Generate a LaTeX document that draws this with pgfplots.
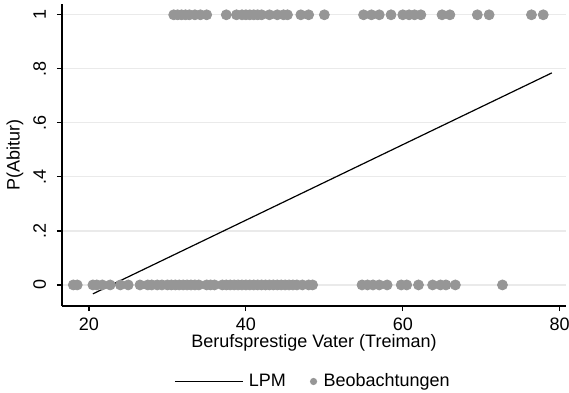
\documentclass[border=0pt]{standalone}
\usepackage{pgfplots}
\pgfplotsset{compat=1.18}
\usepackage{fontspec}
\setmainfont{Liberation Sans}
\definecolor{dotgray}{RGB}{150,150,150}
\definecolor{gridgray}{RGB}{234,234,234}
\newcommand{\chartfont}{\fontsize{9}{10.8}\selectfont}
\pgfplotsset{
  longline/.style={legend image code/.code={\draw[##1] (0pt,0pt) -- (34pt,0pt); \path[draw=none,fill=none] (0pt,0pt) -- (35pt,0pt);}},
  dotimg/.style={legend image code/.code={\path[draw=none,fill=none] (0pt,0pt) -- (3pt,0pt); \fill[dotgray,draw=none] (0pt,0pt) circle (1.8pt);}}
}
\begin{document}
\begin{tikzpicture}
\useasboundingbox (-31pt,-43pt) rectangle (253.5pt,153pt);
\begin{axis}[
  at={(0pt,0pt)}, anchor=south west,
  scale only axis,
  width=252pt, height=151pt,
  xmin=16.56, xmax=80.8, ymin=-0.078, ymax=1.04,
  axis x line*=bottom, axis y line*=left,
  axis line style={black, line width=0.6pt},
  xtick={20,40,60,80},
  ytick={0,0.2,0.4,0.6,0.8,1},
  yticklabels={0,.2,.4,.6,.8,1},
  tick align=outside,
  major tick length=2.5pt,
  tick style={black, line width=0.6pt},
  ymajorgrids,
  grid style={gridgray, line width=0.6pt},
  /pgf/number format/assume math mode=true,
  tick label style={font=\chartfont},
  label style={font=\chartfont},
  yticklabel style={rotate=90, anchor=south},
  yticklabel shift=2pt,
  xticklabel shift=0pt,
  xlabel={Berufsprestige Vater (Treiman)},
  ylabel={P(Abitur)},
  xlabel style={yshift=5pt},
  ylabel style={yshift=-2pt},
  legend style={draw=none, at={(0.5,-0.25)}, anchor=center, legend columns=2,
    /tikz/every even column/.append style={column sep=10pt}, font=\chartfont},
  clip=false,
]
\addplot[only marks, mark=*, mark size=2.5pt, dotgray, forget plot] coordinates {
(30.8,1)(31.3,1)(31.8,1)(32.3,1)(32.8,1)(33.5,1)(34.2,1)(35.0,1)
(37.5,1)(38.8,1)(39.5,1)(40.0,1)(40.5,1)(41.0,1)(41.5,1)(42.0,1)(43.0,1)(44.0,1)(44.8,1)(45.3,1)
(47.0,1)(48.0,1)(50.0,1)
(55.0,1)(56.0,1)(57.0,1)(58.5,1)(60.0,1)(60.8,1)(61.5,1)(62.3,1)(65.0,1)(66.0,1)
(69.5,1)(71.0,1)(76.4,1)(77.9,1)
(18.0,0)(18.5,0)(20.5,0)(21.0,0)(21.7,0)(22.7,0)(24.0,0)(25.0,0)
(26.5,0)(27.5,0)(28.0,0)(28.7,0)(29.3,0)(30.0,0)(30.5,0)(31.0,0)(31.5,0)(32.0,0)(32.5,0)(33.0,0)(33.5,0)(34.0,0)
(35.0,0)(35.5,0)(36.0,0)(37.0,0)(37.5,0)(38.0,0)(38.5,0)(39.0,0)(39.5,0)(40.0,0)(40.5,0)(41.0,0)(41.5,0)
(42.0,0)(42.5,0)(43.0,0)(43.5,0)(44.0,0)(44.5,0)(45.0,0)(45.5,0)(46.0,0)(46.5,0)(47.2,0)(48.0,0)(48.5,0)
(54.8,0)(55.5,0)(56.2,0)(57.0,0)(58.0,0)(59.8,0)(60.5,0)(62.0,0)(63.8,0)(64.8,0)(65.5,0)(66.7,0)(72.7,0)
};
\addplot[black, line width=0.6pt, longline] coordinates {(20.5,-0.033)(79.0,0.785)};
\addlegendentry{LPM}
\addlegendimage{dotimg}
\addlegendentry{Beobachtungen}
\end{axis}
\end{tikzpicture}
\end{document}
